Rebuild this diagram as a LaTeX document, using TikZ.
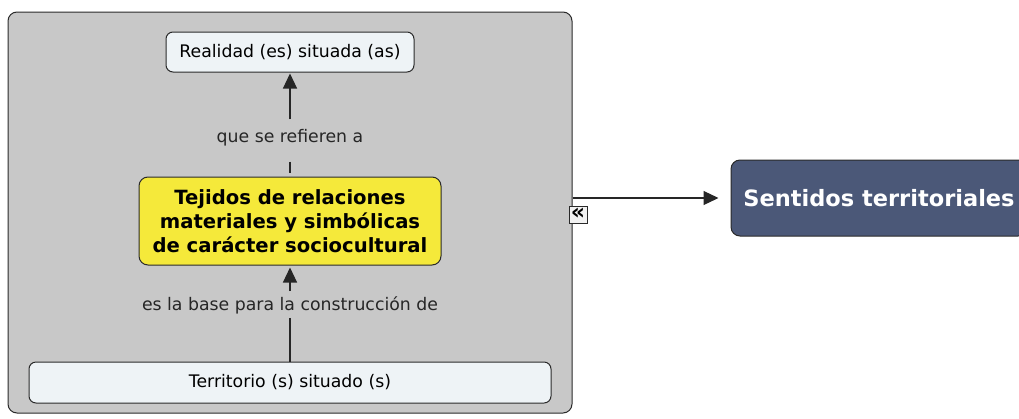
\documentclass[tikz,border=0pt]{standalone}
\usepackage{fontspec}
\setmainfont{DejaVu Sans}
\usetikzlibrary{arrows.meta}
\definecolor{groupgray}{HTML}{C8C8C8}
\definecolor{lightfill}{HTML}{EEF3F6}
\definecolor{yellowfill}{HTML}{F5E93A}
\definecolor{bluefill}{HTML}{4B5878}
\definecolor{edge}{HTML}{2A2A2A}
\tikzset{
  concept/.style={draw=edge, line width=1pt, rounded corners=7pt, inner sep=0pt, align=center},
  linklabel/.style={inner sep=1pt, font=\fontsize{17.3}{20}\selectfont, text=black!85},
  conn/.style={draw=black!85, line width=1.2pt},
  tip/.style={-{Triangle[length=15pt,width=14pt]}}
}
\begin{document}
\begin{tikzpicture}[x=1pt,y=-1pt]
\useasboundingbox (0,0) rectangle (1019,418);
\clip (0,0) rectangle (1019,418);
\node[concept, fill=groupgray, rounded corners=9pt, minimum width=564pt, minimum height=401pt] (group) at (290,212.5) {};
\node[concept, fill=lightfill, minimum width=248pt, minimum height=40pt, font=\fontsize{17.3}{20}\selectfont] (real) at (290,52) {Realidad (es) situada (as)};
\node[linklabel] (l1) at (290,138) {que se refieren a};
\node[concept, fill=yellowfill, rounded corners=9pt, minimum width=302pt, minimum height=88pt, font=\bfseries\fontsize{19.6}{24}\selectfont] (tej) at (290,221) {Tejidos de relaciones\\materiales y simbólicas\\de carácter sociocultural};
\node[linklabel] (l2) at (290,305) {es la base para la construcción de};
\node[concept, fill=lightfill, minimum width=522pt, minimum height=41pt, font=\fontsize{17.3}{20}\selectfont] (terr) at (290,382.5) {Territorio (s) situado (s)};
\node[concept, fill=bluefill, text=white, rounded corners=9pt, minimum width=296pt, minimum height=76pt, font=\bfseries\fontsize{22.5}{26}\selectfont] (sent) at (879,198) {Sentidos territoriales};
\node[draw=edge, line width=0.8pt, fill=white!90!gray, inner sep=0pt, minimum width=18pt, minimum height=17pt, font=\bfseries\fontsize{22}{22}\selectfont] (coll) at (578,215) {\raisebox{1.5pt}{«}};
% connectors
\draw[conn, tip, shorten <=9pt, shorten >=1pt] (l1.north) -- (real.south);
\draw[conn, shorten <=14pt, shorten >=4pt] (l1.south) -- (tej.north);
\draw[conn, tip, shorten <=4pt, shorten >=2pt] (l2.north) -- (tej.south);
\draw[conn, shorten <=3pt] (l2.south) -- (terr.north);
\draw[conn, tip, shorten >=12pt] (group.east |- sent.west) -- (sent.west);
\end{tikzpicture}
\end{document}
